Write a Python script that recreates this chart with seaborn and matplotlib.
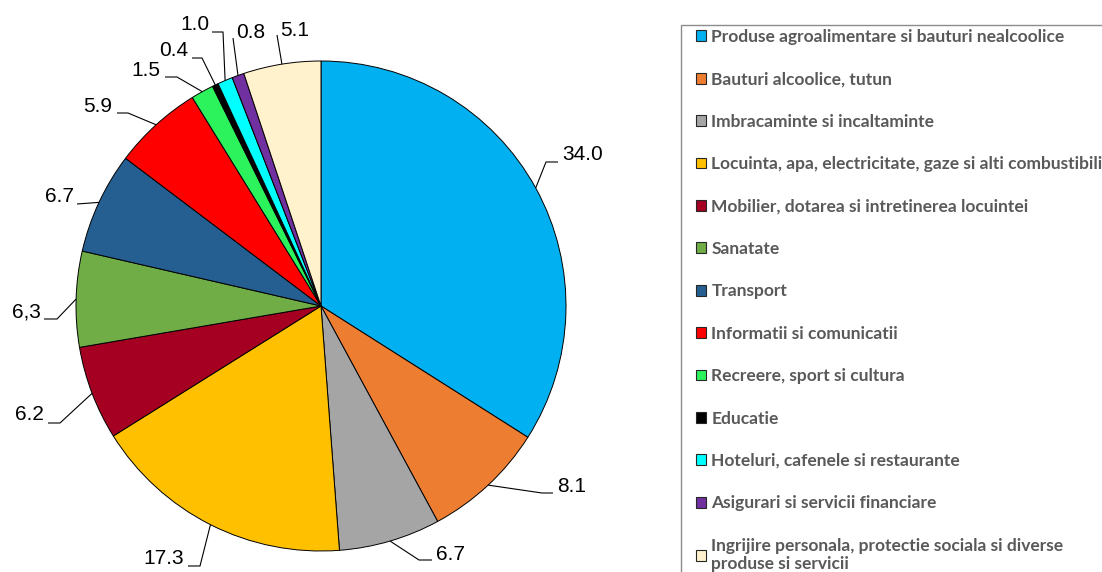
import numpy as np
import matplotlib
matplotlib.use("Agg")
import matplotlib.pyplot as plt
from matplotlib.patches import Rectangle
import seaborn as sns

categories = [
    "Produse agroalimentare si bauturi nealcoolice",
    "Bauturi alcoolice, tutun",
    "Imbracaminte si incaltaminte",
    "Locuinta, apa, electricitate, gaze si alti combustibili",
    "Mobilier, dotarea si intretinerea locuintei",
    "Sanatate",
    "Transport",
    "Informatii si comunicatii",
    "Recreere, sport si cultura",
    "Educatie",
    "Hoteluri, cafenele si restaurante",
    "Asigurari si servicii financiare",
    "Ingrijire personala, protectie sociala si diverse\nproduse si servicii",
]
shares = [34.0, 8.1, 6.7, 17.3, 6.2, 6.3, 6.7, 5.9, 1.5, 0.4, 1.0, 0.8, 5.1]
value_labels = ["34.0", "8.1", "6.7", "17.3", "6.2", "6,3", "6.7", "5.9",
                "1.5", "0.4", "1.0", "0.8", "5.1"]
colors = ["#00B0F0", "#ED7D31", "#A5A5A5", "#FFC000", "#A50021", "#70AD47",
          "#255E91", "#FF0000", "#2CF25C", "#000000", "#00FFFF", "#7030A0",
          "#FFF2CC"]

# label layout in figure pixels: text x, text y, align, elbow, tail end
label_layout = [
    (562, 155, "left",  (546, 162), (558, 162)),
    (557, 487, "left",  (542, 493), (553, 493)),
    (436, 554, "left",  (419, 560), (432, 560)),
    (184, 559, "right", (200, 566), (188, 566)),
    (44, 415, "right",  (60, 423), (48, 423)),
    (41, 312, "right",  (57, 319), (44, 319)),
    (74, 197, "right",  (77, 204), (77, 204)),
    (112, 106, "right", (128, 113), (117, 113)),
    (160, 70, "right",  (177, 77), (165, 77)),
    (188, 51, "right",  (202, 58), (192, 58)),
    (209, 25, "right",  (223, 32), (212, 32)),
    (236, 32, "left",   (233, 38), (233, 38)),
    (280, 30, "left",   (277, 35), (277, 35)),
]

W, H = 1102, 572
CX, CY, R = 321, 306, 245

sns.set_style("white")
plt.rcParams["font.family"] = ["Liberation Sans", "DejaVu Sans"]

fig = plt.figure(figsize=(W / 100, H / 100), dpi=100)
ax = fig.add_axes([(CX - R) / W, (H - CY - R) / H, 2 * R / W, 2 * R / H])

wedges, _ = ax.pie(shares, colors=colors, startangle=90, counterclock=False,
                   wedgeprops=dict(edgecolor="black", linewidth=0.7))
ax.set_xlim(-1, 1)
ax.set_ylim(-1, 1)
ax.axis("off")


def to_data(px, py):
    return (px - CX) / R, (CY - py) / R


for w, txt, (tx, ty, ha, elbow, tail) in zip(wedges, value_labels, label_layout):
    ang = np.deg2rad((w.theta1 + w.theta2) / 2)
    ex, ey = w.r * np.cos(ang), w.r * np.sin(ang)
    bx, by = to_data(*elbow)
    sx, sy = to_data(*tail)
    ax.plot([ex, bx, sx], [ey, by, sy], color="black", lw=0.8,
            clip_on=False, solid_capstyle="butt")
    x, y = to_data(tx, ty)
    ax.text(x, y, txt, ha=ha, va="center", fontsize=15, color="black",
            clip_on=False)

# legend frame runs off the right and bottom of the figure
fig.add_artist(Rectangle((681 / W, -0.2), 1.0, 1.2 - 25 / H,
                         transform=fig.transFigure, fill=False,
                         edgecolor="#8C8C8C", linewidth=1.0))

leg = fig.legend(wedges, categories, loc="upper left",
                 bbox_to_anchor=(696 / W, 1 - 29 / H), borderaxespad=0,
                 frameon=False, borderpad=0,
                 prop=dict(family=["Lato", "DejaVu Sans"], weight="bold", size=12.5),
                 labelcolor="#595959", handlelength=0.58, handleheight=0.58,
                 handletextpad=0.3, labelspacing=1.52)
for h in leg.legend_handles:
    h.set_edgecolor("#262626")
    h.set_linewidth(0.8)

fig.savefig("out.png", dpi=100)
